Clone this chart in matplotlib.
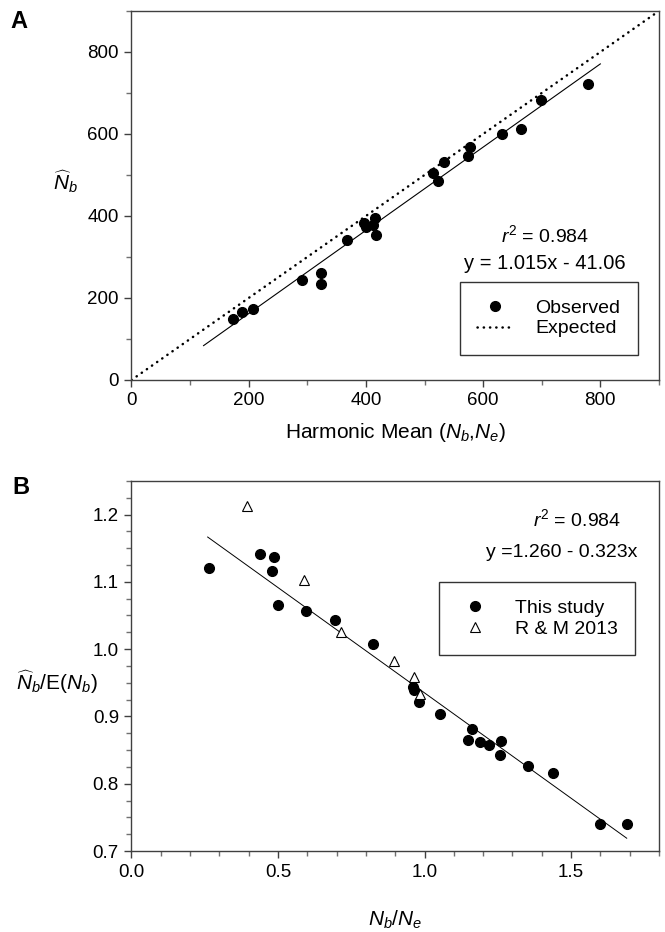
import numpy as np
import matplotlib
matplotlib.use('Agg')
import matplotlib.pyplot as plt
from matplotlib.ticker import MultipleLocator

plt.rcParams['font.family'] = ['Liberation Sans', 'DejaVu Sans']
plt.rcParams['mathtext.fontset'] = 'custom'
plt.rcParams['mathtext.rm'] = 'Liberation Sans'
plt.rcParams['mathtext.it'] = 'Liberation Sans:italic'

# panel A: harmonic mean vs estimated Nb
hm_x = [174, 188, 208, 291, 323, 324, 367, 396, 401, 412, 416, 418,
        515, 523, 534, 575, 578, 633, 664, 699, 779]
nb_hat = [149, 167, 172, 243, 262, 233, 341, 384, 374, 378, 394, 353,
          504, 485, 531, 547, 568, 599, 611, 684, 723]
fitA = (1.015, -41.06)
fitA_range = (123, 800)

# panel B: Nb/Ne vs Nb_hat/E(Nb)
ratio_x = [0.263, 0.439, 0.488, 0.478, 0.500, 0.595, 0.693, 0.824, 0.961,
           0.964, 0.982, 1.052, 1.161, 1.148, 1.188, 1.221, 1.262, 1.256,
           1.353, 1.439, 1.598, 1.690]
ratio_y = [1.120, 1.142, 1.137, 1.116, 1.065, 1.057, 1.044, 1.008, 0.943,
           0.939, 0.922, 0.904, 0.881, 0.865, 0.862, 0.857, 0.864, 0.842,
           0.827, 0.816, 0.740, 0.740]
rm_x = [0.394, 0.589, 0.716, 0.896, 0.964, 0.983]
rm_y = [1.213, 1.103, 1.026, 0.983, 0.958, 0.933]
fitB = (1.248, -0.313)
fitB_range = (0.26, 1.69)

fig = plt.figure(figsize=(6.65, 9.32), dpi=100)
axA = fig.add_axes([0.1977, 0.5923, 0.7932, 0.3959])
axB = fig.add_axes([0.1977, 0.0869, 0.7932, 0.3971])

spine_col = '#404040'
for ax in (axA, axB):
    for s in ax.spines.values():
        s.set_color(spine_col)
        s.set_linewidth(1.0)
    ax.tick_params(which='major', direction='out', length=5, width=1,
                   color=spine_col, labelsize=13.5, pad=4)
    ax.tick_params(which='minor', direction='out', length=3.5, width=1,
                   color='#707070')

leg_kw = dict(fontsize=14, frameon=True, fancybox=False, edgecolor='black',
              handlelength=1.9, handletextpad=1.1, borderpad=0.9,
              labelspacing=0.15, borderaxespad=0)

# ---- A ----
xx = np.linspace(0, 900, 2)
axA.plot(xx, xx, color='black', lw=1.8, linestyle=(0, (0.1, 2.4)),
         dash_capstyle='round', label='Expected')
fx = np.array(fitA_range)
axA.plot(fx, fitA[0] * fx + fitA[1], color='black', lw=0.8)
axA.plot(hm_x, nb_hat, 'o', color='black', ms=7, label='Observed')
axA.set_xlim(0, 900)
axA.set_ylim(0, 900)
axA.xaxis.set_minor_locator(MultipleLocator(100))
axA.yaxis.set_minor_locator(MultipleLocator(100))
axA.set_xticks([0, 200, 400, 600, 800])
axA.set_yticks([0, 200, 400, 600, 800])
axA.set_xlabel('Harmonic Mean ($N_b$,$N_e$)', fontsize=15, labelpad=8)
axA.set_ylabel(r'$\widehat{N}_b$', fontsize=15, rotation=0, ha='center', va='center')
axA.yaxis.set_label_coords(-0.125, 0.537)
axA.text(705, 353, '$r^2$ = 0.984', fontsize=14, ha='center', va='center')
axA.text(705, 284, 'y = 1.015x - 41.06', fontsize=14.5, ha='center', va='center')
h, l = axA.get_legend_handles_labels()
legA = axA.legend([h[1], h[0]], [l[1], l[0]], loc='lower right',
                  bbox_to_anchor=(0.96, 0.068), **leg_kw)
legA.get_frame().set_linewidth(1.0)

# ---- B ----
bx = np.array(fitB_range)
axB.plot(bx, fitB[0] + fitB[1] * bx, color='black', lw=0.7)
axB.plot(ratio_x, ratio_y, 'o', color='black', ms=7, label='This study')
axB.plot(rm_x, rm_y, '^', mfc='white', mec='black', mew=0.8, ms=6.5,
         label='R & M 2013')
axB.set_xlim(0, 1.8)
axB.set_ylim(0.7, 1.25)
axB.xaxis.set_minor_locator(MultipleLocator(0.1))
axB.yaxis.set_minor_locator(MultipleLocator(0.025))
axB.set_xticks([0.0, 0.5, 1.0, 1.5])
axB.set_xticklabels(['0.0', '0.5', '1.0', '1.5'])
axB.set_yticks([0.7, 0.8, 0.9, 1.0, 1.1, 1.2])
axB.set_yticklabels(['0.7', '0.8', '0.9', '1.0', '1.1', '1.2'])
axB.set_xlabel('$N_b$/$N_e$', fontsize=15, labelpad=20)
axB.set_ylabel(r'$\widehat{N}_b$/E($N_b$)', fontsize=15, rotation=0,
               ha='center', va='center')
axB.yaxis.set_label_coords(-0.142, 0.457)
axB.text(1.52, 1.193, '$r^2$ = 0.984', fontsize=14, ha='center', va='center')
axB.text(1.468, 1.143, 'y =1.260 - 0.323x', fontsize=14, ha='center', va='center')
legB = axB.legend(loc='upper right', bbox_to_anchor=(0.955, 0.727), **leg_kw)
legB.get_frame().set_linewidth(1.0)

fig.text(0.016, 0.977, 'A', fontsize=17, fontweight='bold', ha='left', va='center')
fig.text(0.018, 0.477, 'B', fontsize=17, fontweight='bold', ha='left', va='center')

fig.savefig('out.png', dpi=100)
